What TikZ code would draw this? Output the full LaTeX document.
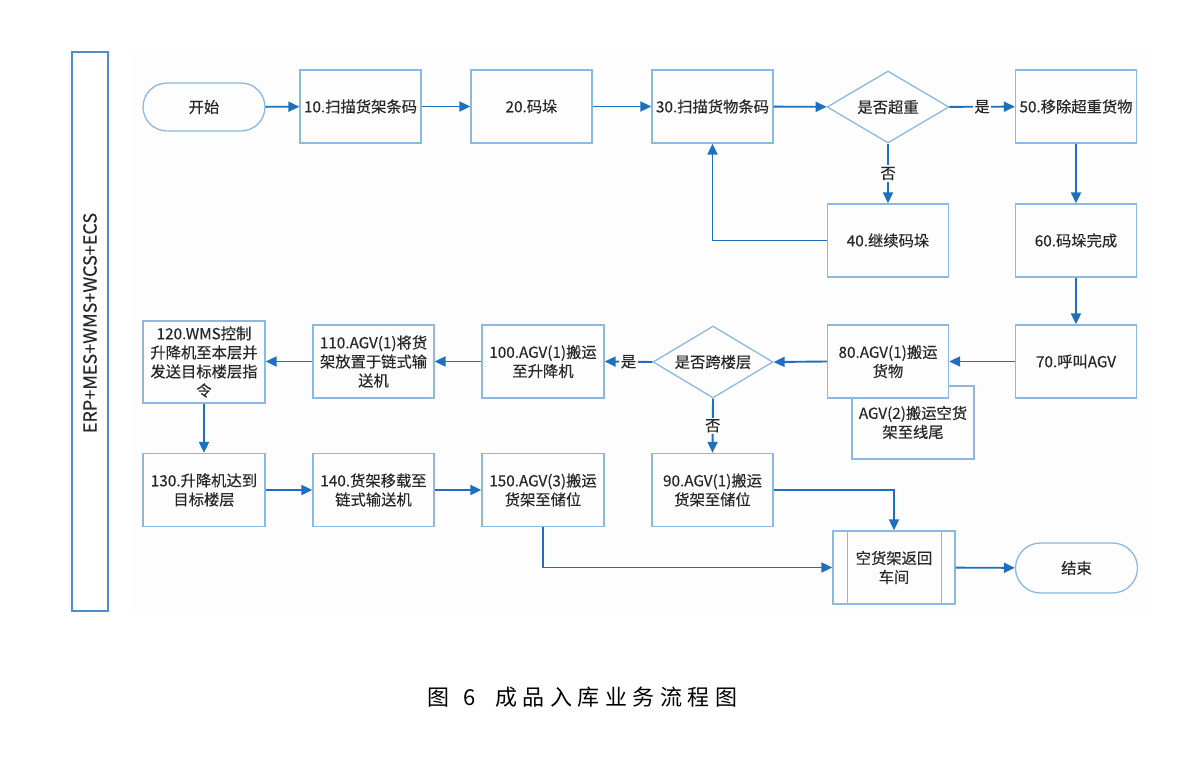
\documentclass[tikz,border=0pt]{standalone}
\usepackage{fontspec}
\setmainfont{Noto Sans CJK SC}
\newfontfamily\boxfont[FakeBold=0.3]{Noto Sans CJK SC}
\newfontfamily\capfont[LetterSpace=25]{Noto Sans CJK SC}
\usetikzlibrary{shapes.geometric,arrows.meta}
\definecolor{arrowc}{RGB}{30,112,190}
\definecolor{boxc}{RGB}{140,185,225}
\definecolor{lanec}{RGB}{80,140,200}
\definecolor{txt}{RGB}{40,40,40}
\definecolor{bgc}{RGB}{253,253,253}
\tikzset{
  box/.style={draw=boxc, line width=1.3pt, fill=bgc, minimum width=121pt, minimum height=73pt,
    align=center, font=\boxfont\fontsize{15.3}{19}\selectfont, text=txt, inner sep=2pt},
  term/.style={box, rounded corners=24pt, minimum height=48pt, minimum width=122pt},
  dia/.style={diamond, draw=boxc, line width=1.3pt, fill=bgc, minimum width=122pt, minimum height=72pt,
    aspect=1.7, inner sep=0pt, font=\boxfont\fontsize{15.3}{19}\selectfont, text=txt},
  arr/.style={draw=arrowc, line width=1.9pt, -{Triangle[length=11pt,width=10pt]}},
  lbl/.style={fill=bgc, inner sep=1.5pt, font=\boxfont\fontsize{15.3}{19}\selectfont, text=txt},
}
\begin{document}
\begin{tikzpicture}[x=1pt,y=-1pt]
\fill[white] (0,0) rectangle (1183,760);
\useasboundingbox (0,0) rectangle (1183,760);
\fill[bgc] (133,50) rectangle (1152,612);
% lane
\node[draw=lanec, line width=1.3pt, fill=white, minimum width=36pt, minimum height=559pt, inner sep=0pt] (lane) at (90,331.5) {};
\node[rotate=90, font=\boxfont\fontsize{18}{18}\selectfont, text=txt] (lanelbl) at (90,323) {ERP+MES+WMS+WCS+ECS};
% row 1
\node[term] (start) at (204,107) {开始};
\node[box] (n10) at (360.5,106.5) {10.扫描货架条码};
\node[box] (n20) at (531.5,106.5) {20.码垛};
\node[box] (n30) at (712.5,106.5) {30.扫描货物条码};
\node[dia] (d1) at (888,107) {是否超重};
\node[box] (n50) at (1076,106.5) {50.移除超重货物};
% row 2
\node[box] (n40) at (888,240.5) {40.继续码垛};
\node[box] (n60) at (1076,240.5) {60.码垛完成};
% row 3
\node[box] (n70) at (1076,361.5) {70.呼叫AGV};
\node[box, minimum width=122pt] (agv2) at (913,422.5) {AGV(2)搬运空货\\架至线尾};
\node[box] (n80) at (888,361.5) {80.AGV(1)搬运\\货物};
\node[dia, minimum width=120pt] (d2) at (713,362) {是否跨楼层};
\node[box, minimum width=122pt] (n100) at (543,361.5) {100.AGV(1)搬运\\至升降机};
\node[box] (n110) at (373.5,361.5) {110.AGV(1)将货\\架放置于链式输\\送机};
\node[box, minimum width=122pt, minimum height=82pt] (n120) at (204,362) {120.WMS控制\\升降机至本层并\\发送目标楼层指\\令};
% row 4
\node[box, minimum width=122pt] (n130) at (204,490) {130.升降机达到\\目标楼层};
\node[box] (n140) at (373.5,490) {140.货架移载至\\链式输送机};
\node[box, minimum width=122pt] (n150) at (543,490) {150.AGV(3)搬运\\货架至储位};
\node[box] (n90) at (712.5,490) {90.AGV(1)搬运\\货架至储位};
% row 5
\node[box, minimum width=122pt] (ret) at (894,567.5) {空货架返回\\车间};
\draw[boxc, line width=1.3pt] ([xshift=15pt]ret.north west) -- ([xshift=15pt]ret.south west);
\draw[boxc, line width=1.3pt] ([xshift=-14pt]ret.north east) -- ([xshift=-14pt]ret.south east);
\node[term, minimum height=50pt, rounded corners=25pt] (end) at (1076.5,568) {结束};
% arrows
\draw[arr] (start) -- (n10);
\draw[arr] (n10) -- (n20);
\draw[arr] (n20) -- (n30);
\draw[arr] (n30) -- (d1);
\draw[arr] (d1) -- node[lbl] {是} (n50);
\draw[arr] (d1) -- node[lbl] {否} (n40);
\draw[arr] (n40.west) -| (n30.south);
\draw[arr] (n50) -- (n60);
\draw[arr] (n60) -- (n70);
\draw[arr] (n70) -- (n80);
\draw[arr] (n80.west) -- (d2.east);
\draw[arr] (d2.west) -- node[lbl] {是} (n100.east);
\draw[arr] (d2.south) -- node[lbl] {否} (n90.north);
\draw[arr] (n100) -- (n110);
\draw[arr] (n110.west) -- (n110.west -| n120.east);
\draw[arr] (n120) -- (n130);
\draw[arr] (n130) -- (n140);
\draw[arr] (n140) -- (n150);
\draw[arr] (n150.south) |- (ret.west);
\draw[arr] (n90.east) -| (ret.north);
\draw[arr] (ret) -- (end);
% caption
\node[anchor=west, inner sep=0pt, font=\capfont\fontsize{22}{22}\selectfont, text=black] (cap) at (427,697) {图\hspace{14pt}6\hspace{20pt}成品入库业务流程图};
\end{tikzpicture}
\end{document}
